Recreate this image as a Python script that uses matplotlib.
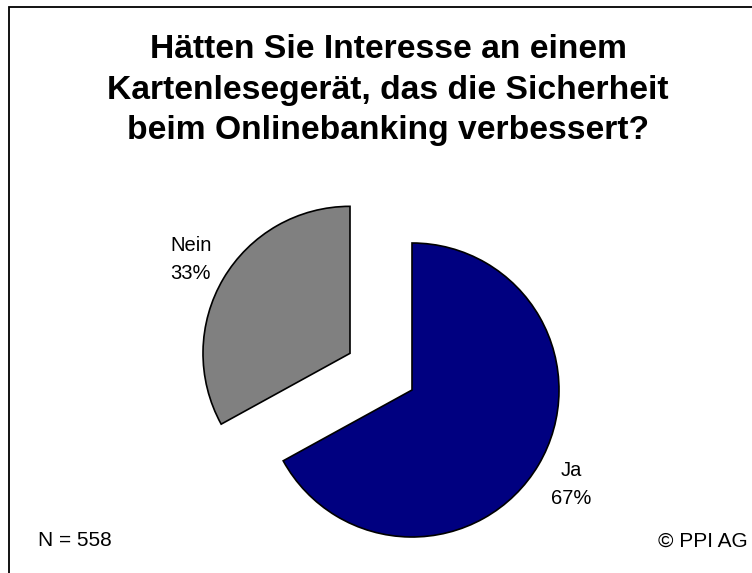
import matplotlib
matplotlib.use("Agg")
import matplotlib.pyplot as plt
from matplotlib.patches import Rectangle

categories = ["Ja", "Nein"]
values = [67, 33]
colors = ["#000080", "#808080"]
explode = [0.0, 0.49]
title = "Hätten Sie Interesse an einem\nKartenlesegerät, das die Sicherheit\nbeim Onlinebanking verbessert?"
footer_left = "N = 558"
footer_right = "© PPI AG"

plt.rcParams['font.family'] = ['Liberation Sans', 'DejaVu Sans']

W, H = 752, 573
fig = plt.figure(figsize=(W / 100, H / 100), dpi=100)
fig.patch.set_facecolor("white")

R = 147.0
cx, cy = 412.0, 390.0
ax = fig.add_axes([0, 0, 1, 1])
ax.axis("off")

labels = [f"{c}\n{v}%" for c, v in zip(categories, values)]
wedges, texts = ax.pie(values, labels=labels, colors=colors, explode=explode,
                       startangle=90, counterclock=False, radius=1.0,
                       labeldistance=1.26,
                       wedgeprops=dict(edgecolor="black", linewidth=1.2),
                       textprops=dict(fontsize=14.5, color="black"),
                       frame=False)
for t in texts:
    t.set_ha("center")
    t.set_va("center")
    t.set_multialignment("center")
    t.set_linespacing(1.6)
ax.set_aspect("auto")
ax.set_xlim(-cx / R, (W - cx) / R)
ax.set_ylim(-(H - cy) / R, cy / R)

fig.text(388 / W, 1 - 90 / H, title, ha="center", va="center", fontsize=24.2,
         fontweight="bold", linespacing=1.4)
fig.text(38 / W, 1 - 541 / H, footer_left, ha="left", va="center", fontsize=15)
fig.text(748 / W, 1 - 541 / H, footer_right, ha="right", va="center", fontsize=15)

fig.patches.append(Rectangle((9 / W, -0.1), 1.2, 1 - 7 / H + 0.1, transform=fig.transFigure,
                             fill=False, edgecolor="black", linewidth=1.3))

fig.savefig("out.png", dpi=100, facecolor="white")
